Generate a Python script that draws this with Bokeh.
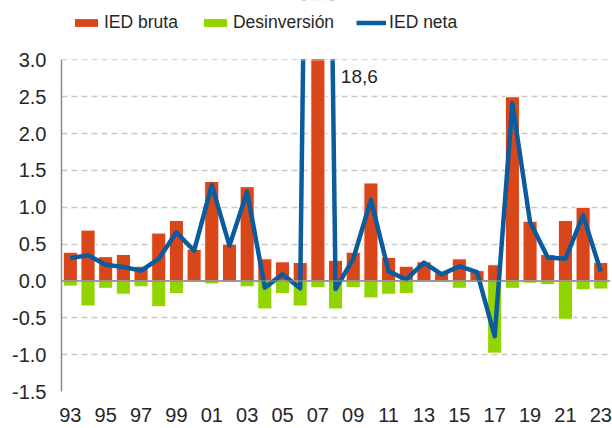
from bokeh.plotting import figure
from bokeh.models import (Legend, LegendItem, Span, FixedTicker, ColumnDataSource, Range1d,
                          NumeralTickFormatter, BoxAnnotation)
from bokeh.core.properties import value
from bokeh.embed import file_html
from bokeh.resources import INLINE

years = list(range(1993, 2024))
ied_bruta = [0.39, 0.69, 0.33, 0.36, 0.20, 0.65, 0.82, 0.43, 1.35, 0.50, 1.28, 0.30, 0.26, 0.25, 18.7, 0.28,
             0.39, 1.33, 0.32, 0.20, 0.26, 0.11, 0.30, 0.14, 0.22, 2.50, 0.81, 0.36, 0.82, 1.00, 0.25]
desinversion = [-0.07, -0.34, -0.10, -0.18, -0.08, -0.35, -0.17, -0.02, -0.04, -0.02, -0.08, -0.38, -0.17, -0.34, -0.09, -0.38,
                -0.09, -0.23, -0.18, -0.17, -0.02, -0.02, -0.10, -0.02, -0.98, -0.10, -0.03, -0.05, -0.52, -0.12, -0.11]
ied_neta = [0.31, 0.35, 0.22, 0.19, 0.14, 0.30, 0.66, 0.41, 1.30, 0.48, 1.21, -0.09, 0.09, -0.10, 18.6, -0.11,
            0.30, 1.10, 0.13, 0.02, 0.25, 0.09, 0.20, 0.12, -0.75, 2.41, 0.80, 0.32, 0.30, 0.89, 0.13]
y_ticks = [-1.5, -1.0, -0.5, 0.0, 0.5, 1.0, 1.5, 2.0, 2.5, 3.0]
y_min, y_max = -1.5, 3.0
x_tick_years = list(range(1993, 2024, 2))
peak_label = "18,6"

ORANGE = "#D9461A"
GREEN = "#92D400"
BLUE = "#0A5C9E"
FONT = "Liberation Sans"

src = ColumnDataSource(dict(x=years, bruta=ied_bruta, des=desinversion, neta=ied_neta))

# frame extends above the 3.0 line to host the legend; area above y_max is masked
p = figure(width=612, height=428, output_backend="svg", toolbar_location=None,
           x_range=Range1d(1992.5, 2023.55), y_range=Range1d(y_min, 3.806),
           min_border_left=61, min_border_right=2, min_border_bottom=37, min_border_top=0)
p.outline_line_color = None
p.background_fill_color = "white"

r_b = p.vbar(x="x", top="bruta", bottom=0, width=0.8, source=src, fill_color=ORANGE,
             line_color="white", line_width=1)
r_d = p.vbar(x="x", top=0, bottom="des", width=0.8, source=src, fill_color=GREEN,
             line_color="white", line_width=1)
p.add_layout(Span(location=0, dimension="width", line_color="#7F7F7F", line_width=1.5))
r_n = p.line(x="x", y="neta", source=src, line_color=BLUE, line_width=4.5, line_join="round")

p.add_layout(BoxAnnotation(bottom=y_max + 0.012, top=100, left=1980, right=2040,
                           fill_color="white", fill_alpha=1.0, line_color="white", line_width=4,
                           level="annotation"))

p.text(x=[2008.3], y=[2.77], text=[peak_label], text_font=value(FONT), text_font_size="19px",
       text_color="#262626", text_baseline="middle", text_align="left")

p.xgrid.grid_line_color = None
p.ygrid.grid_line_color = "#C8C8C8"
p.ygrid.grid_line_dash = "6 4"
p.ygrid.grid_line_width = 1.5
p.ygrid.ticker = FixedTicker(ticks=y_ticks)

p.yaxis.ticker = FixedTicker(ticks=y_ticks)
p.yaxis.bounds = (y_min, y_max)
p.yaxis.formatter = NumeralTickFormatter(format="0.0")
p.yaxis.axis_line_color = "#8C8C8C"
p.yaxis.axis_line_width = 1.5
p.yaxis.major_tick_line_color = None
p.yaxis.minor_tick_line_color = None
p.yaxis.major_label_text_font = FONT
p.yaxis.major_label_text_font_size = "20px"
p.yaxis.major_label_text_color = "#262626"
p.yaxis.major_label_standoff = 9

p.xaxis.ticker = FixedTicker(ticks=x_tick_years)
p.xaxis.major_label_overrides = {y: f"{y % 100:02d}" for y in x_tick_years}
p.xaxis.axis_line_color = None
p.xaxis.major_tick_line_color = None
p.xaxis.minor_tick_line_color = None
p.xaxis.major_label_text_font = FONT
p.xaxis.major_label_text_font_size = "20px"
p.xaxis.major_label_text_color = "#262626"
p.xaxis.major_label_standoff = 10

legend = Legend(items=[LegendItem(label="IED bruta", renderers=[r_b]),
                       LegendItem(label="Desinversión", renderers=[r_d]),
                       LegendItem(label="IED neta", renderers=[r_n])],
                orientation="horizontal", location=(10, 358),
                label_text_font=FONT, label_text_font_size="17.5px", label_text_color="#262626",
                glyph_width=30, glyph_height=11, label_standoff=3, spacing=22,
                border_line_color=None, background_fill_alpha=0, padding=4, margin=0)
p.add_layout(legend)

open("out.html", "w").write(file_html(p, INLINE))
